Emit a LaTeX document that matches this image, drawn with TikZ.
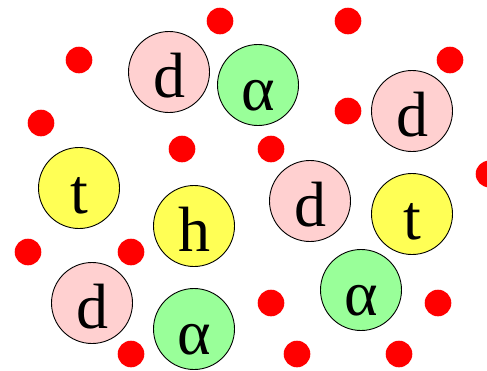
\documentclass[tikz,border=0pt]{standalone}
\usepackage{fontspec}
\setmainfont{Liberation Serif}
\newfontfamily\tnr{Liberation Serif}
\definecolor{pinkd}{RGB}{255,208,208}
\definecolor{greena}{RGB}{153,255,153}
\definecolor{yellowt}{RGB}{255,255,85}
\definecolor{reddot}{RGB}{255,0,0}
\begin{document}
\begin{tikzpicture}[x=1pt,y=-1pt,
  particle/.style={circle,draw=black,line width=0.9pt,minimum size=81pt,inner sep=0pt,
    font=\tnr\fontsize{64}{64}\selectfont,text height=50pt,text depth=0pt},
  deut/.style={particle,fill=pinkd},
  alph/.style={particle,fill=greena},
  trit/.style={particle,fill=yellowt},
  elec/.style={circle,fill=reddot,minimum size=26.6pt,inner sep=0pt}]
\useasboundingbox (0,0) rectangle (487,370);
% particles
\node[deut] (d1) at (169,72) {d};
\node[alph] (a1) at (258,85) {α};
\node[deut] (d2) at (412,111) {d};
\node[trit] (t1) at (79,188) {t};
\node[trit] (h1) at (194,226) {h};
\node[deut] (d3) at (310,201) {d};
\node[trit] (t2) at (412,214) {t};
\node[alph] (a2) at (361,290) {α};
\node[deut] (d4) at (92,303) {d};
\node[alph] (a3) at (194,329) {α};
% electrons
\node[elec] (e1) at (220,21) {};
\node[elec] (e2) at (348,21) {};
\node[elec] (e3) at (79,60) {};
\node[elec] (e4) at (450,60) {};
\node[elec] (e5) at (348,111) {};
\node[elec] (e6) at (41,123) {};
\node[elec] (e7) at (182,149) {};
\node[elec] (e8) at (271,149) {};
\node[elec] (e9) at (489,174) {};
\node[elec] (e10) at (28,252) {};
\node[elec] (e11) at (131,252) {};
\node[elec] (e12) at (271,303) {};
\node[elec] (e13) at (438,303) {};
\node[elec] (e14) at (131,354) {};
\node[elec] (e15) at (297,354) {};
\node[elec] (e16) at (399,354) {};
\end{tikzpicture}
\end{document}
